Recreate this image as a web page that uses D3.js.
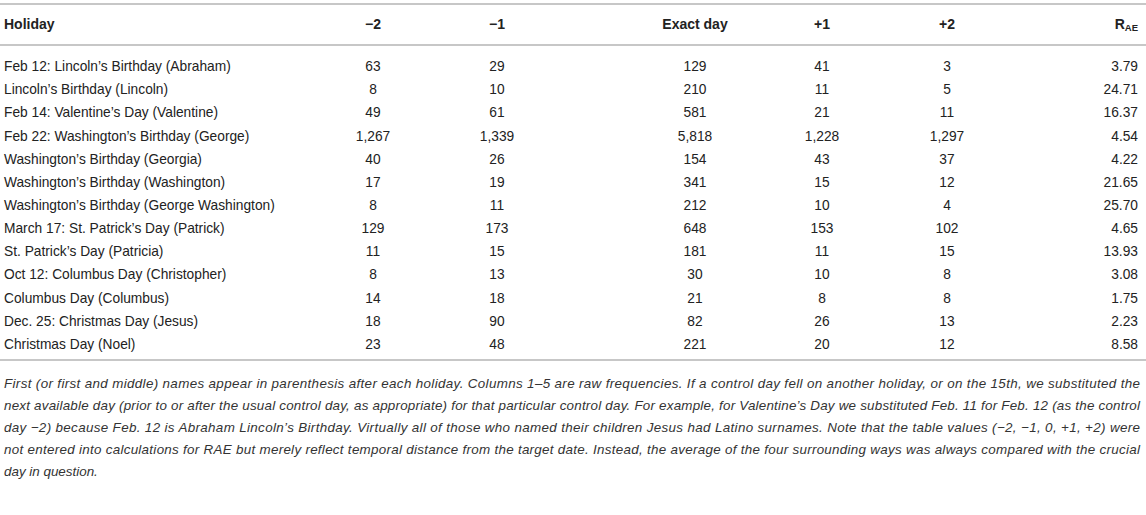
<!DOCTYPE html>
<html>
<head>
<meta charset="utf-8">
<script src="https://cdn.jsdelivr.net/npm/d3@7"></script>
<style>
  body { margin: 0; background: #fff; }
  svg text { font-family: "Liberation Sans", Arial, Helvetica, sans-serif; fill: #222; }
</style>
</head>
<body>
<svg id="chart" width="1146" height="515"></svg>
<script>
// table data
var holidays = [
    "Feb 12: Lincoln\u2019s Birthday (Abraham)",
    "Lincoln\u2019s Birthday (Lincoln)",
    "Feb 14: Valentine\u2019s Day (Valentine)",
    "Feb 22: Washington\u2019s Birthday (George)",
    "Washington\u2019s Birthday (Georgia)",
    "Washington\u2019s Birthday (Washington)",
    "Washington\u2019s Birthday (George Washington)",
    "March 17: St. Patrick\u2019s Day (Patrick)",
    "St. Patrick\u2019s Day (Patricia)",
    "Oct 12: Columbus Day (Christopher)",
    "Columbus Day (Columbus)",
    "Dec. 25: Christmas Day (Jesus)",
    "Christmas Day (Noel)"
];
var minus2   = [63, 8, 49, 1267, 40, 17, 8, 129, 11, 8, 14, 18, 23];
var minus1   = [29, 10, 61, 1339, 26, 19, 11, 173, 15, 13, 18, 90, 48];
var exactDay = [129, 210, 581, 5818, 154, 341, 212, 648, 181, 30, 21, 82, 221];
var plus1    = [41, 11, 21, 1228, 43, 15, 10, 153, 11, 10, 8, 26, 20];
var plus2    = [3, 5, 11, 1297, 37, 12, 4, 102, 15, 8, 8, 13, 12];
var rae      = [3.79, 24.71, 16.37, 4.54, 4.22, 21.65, 25.70, 4.65, 13.93, 3.08, 1.75, 2.23, 8.58];

var columnKeys   = ["m2", "m1", "exact", "p1", "p2"];
var columnLabels = ["\u22122", "\u22121", "Exact day", "+1", "+2"];

var footnoteLines = [
    "First (or first and middle) names appear in parenthesis after each holiday. Columns 1\u20135 are raw frequencies. If a control day fell on another holiday, or on the 15th, we substituted the",
    "next available day (prior to or after the usual control day, as appropriate) for that particular control day. For example, for Valentine\u2019s Day we substituted Feb. 11 for Feb. 12 (as the control",
    "day \u22122) because Feb. 12 is Abraham Lincoln\u2019s Birthday. Virtually all of those who named their children Jesus had Latino surnames. Note that the table values (\u22122, \u22121, 0, +1, +2) were",
    "not entered into calculations for RAE but merely reflect temporal distance from the target date. Instead, the average of the four surrounding ways was always compared with the crucial",
    "day in question."
];

var svg = d3.select("#chart");
var fmt = d3.format(",");
var fmt2 = d3.format(".2f");

var seriesByKey = {m2: minus2, m1: minus1, exact: exactDay, p1: plus1, p2: plus2};

// layout
var left = 4, right = 1138;
var bodySize = "13.75px";
var colX = d3.scaleOrdinal().domain(columnKeys).range([373, 497, 695, 822, 947]);
var rowY = d3.scaleBand().domain(holidays).range([54.5, 355.5]);

// rules
var rules = [4, 45, 360];
svg.selectAll("line.rule").data(rules).enter().append("line")
    .attr("class", "rule")
    .attr("x1", 0).attr("x2", 1146)
    .attr("y1", function(d){ return d; })
    .attr("y2", function(d){ return d; })
    .style("stroke", "#b4b4b4")
    .style("stroke-width", 1.5);

// header
var headerY = 28.5;
svg.append("text")
    .text("Holiday")
    .attr("x", left).attr("y", headerY)
    .style("font-weight", "bold").style("font-size", "14px");

svg.selectAll("text.colhead").data(columnKeys).enter().append("text")
    .attr("class", "colhead")
    .text(function(d, i){ return columnLabels[i]; })
    .attr("x", function(d){ return colX(d); })
    .attr("y", headerY)
    .attr("text-anchor", "middle")
    .style("font-weight", "bold").style("font-size", "14px");

var raeHead = svg.append("text")
    .attr("x", right).attr("y", headerY)
    .attr("text-anchor", "end")
    .style("font-weight", "bold").style("font-size", "14px");
raeHead.append("tspan").text("R");
raeHead.append("tspan").text("AE").attr("dy", 2).style("font-size", "9.5px");

// rows
var rows = svg.selectAll("g.row").data(holidays).enter().append("g")
    .attr("class", "row")
    .attr("transform", function(d){ return "translate(0," + (rowY(d) + rowY.bandwidth() / 2 + 5) + ")"; });

rows.append("text")
    .text(function(d){ return d; })
    .attr("x", left)
    .style("font-size", bodySize);

columnKeys.forEach(function(key){
    rows.append("text")
        .text(function(d, i){ return fmt(seriesByKey[key][i]); })
        .attr("x", colX(key))
        .attr("text-anchor", "middle")
        .style("font-size", bodySize);
});

rows.append("text")
    .text(function(d, i){ return fmt2(rae[i]); })
    .attr("x", right)
    .attr("text-anchor", "end")
    .style("font-size", bodySize);

// footnote, justified
var noteY = d3.scaleLinear().domain([0, footnoteLines.length - 1]).range([388, 476]);
svg.selectAll("text.note").data(footnoteLines).enter().append("text")
    .attr("class", "note")
    .text(function(d){ return d; })
    .attr("x", left)
    .attr("y", function(d, i){ return noteY(i); })
    .attr("textLength", function(d, i){ return i < footnoteLines.length - 1 ? 1136 : null; })
    .attr("lengthAdjust", "spacing")
    .style("font-style", "italic")
    .style("font-size", "13.4px")
    .style("fill", "#333");
</script>
</body>
</html>
